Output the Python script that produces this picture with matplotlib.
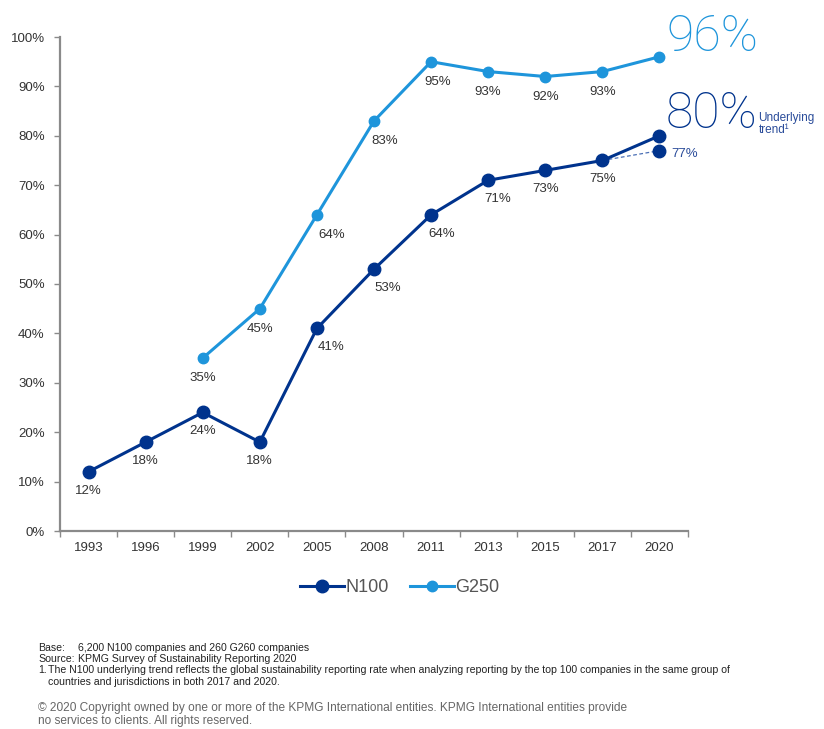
import numpy as np
import matplotlib.pyplot as plt

years = ['1993', '1996', '1999', '2002', '2005', '2008', '2011', '2013', '2015', '2017', '2020']
n100 = [12, 18, 24, 18, 41, 53, 64, 71, 73, 75, 80]
g250 = [np.nan, np.nan, 35, 45, 64, 83, 95, 93, 92, 93, 96]
trend_years = ['2017', '2020']
trend_vals = [75, 77]

# horizontal label nudges (pixels) for steep segments
n100_dx = [0, 0, 0, 0, 14, 14, 11, 10, 0, 0, 0]
g250_dx = [0, 0, 0, 0, 15, 11, 7, 0, 0, 0, 0]

NAVY = '#00338D'
SKY = '#1E95DB'
GREY = '#333333'
AXIS = '#8a8a8a'

plt.rcParams['font.family'] = ['Liberation Sans', 'DejaVu Sans']

fig = plt.figure(figsize=(8.24, 7.29), dpi=100)
ax = fig.add_axes([60/824, 1-531/729, 628/824, 494/729])

x = np.arange(len(years))
ax.plot(x, n100, color=NAVY, lw=2.2, marker='o', ms=9, label='N100', zorder=3)
ax.plot(x, g250, color=SKY, lw=2.2, marker='o', ms=7.5, label='G250', zorder=3)

tx = [years.index(y) for y in trend_years]
ax.plot(tx, trend_vals, color='#4a6fb5', lw=0.9, ls=(0, (3, 2)), zorder=2)
ax.plot(tx[1], trend_vals[1], 'o', color=NAVY, ms=9, zorder=3)

px = 72 / fig.dpi
for i, v in enumerate(n100):
    if i == len(n100) - 1:
        continue
    ax.annotate(f'{v}%', (x[i], v), xytext=(n100_dx[i]*px, -19*px), textcoords='offset points',
                ha='center', va='center', fontsize=9.5, color=GREY)
for i, v in enumerate(g250):
    if np.isnan(v) or i == len(g250) - 1:
        continue
    ax.annotate(f'{v:.0f}%', (x[i], v), xytext=(g250_dx[i]*px, -20*px), textcoords='offset points',
                ha='center', va='center', fontsize=9.5, color=GREY)
ax.annotate(f'{trend_vals[1]}%', (tx[1], trend_vals[1]), xytext=(12*px, -3*px),
            textcoords='offset points', ha='left', va='center', fontsize=9.5, color='#2a4c9a')

# big headline values
ax.annotate(f'{g250[-1]:.0f}%', (x[-1], g250[-1]), xytext=(7*px, 20*px), textcoords='offset points',
            ha='left', va='center', fontsize=36, color=SKY, fontweight='light',
            family=['Roboto', 'DejaVu Sans'], annotation_clip=False)
ax.annotate(f'{n100[-1]}%', (x[-1], n100[-1]), xytext=(6*px, 22*px), textcoords='offset points',
            ha='left', va='center', fontsize=36, color=NAVY, fontweight='light',
            family=['Roboto', 'DejaVu Sans'], annotation_clip=False)
ax.annotate('Underlying\ntrend\u00b9', (x[-1], n100[-1]), xytext=(99*px, 12*px), textcoords='offset points',
            ha='left', va='center', fontsize=8.5, color='#2a4c9a', linespacing=1.05,
            annotation_clip=False)

ax.set_xlim(-0.5, len(years) - 0.5)
ax.set_ylim(0, 100)
ax.set_yticks(np.arange(0, 101, 10))
ax.set_yticklabels([f'{t}%' for t in range(0, 101, 10)])
ax.set_xticks(x)
ax.set_xticklabels(years)
ax.set_xticks(np.arange(-0.5, len(years)), minor=True)
ax.tick_params(axis='x', which='major', length=0, pad=8, labelsize=9.5, labelcolor=GREY)
ax.tick_params(axis='x', which='minor', length=4, width=1, color=AXIS, direction='out')
ax.tick_params(axis='y', length=4, width=1, color=AXIS, pad=7, labelsize=9.5, labelcolor=GREY)
for s in ['top', 'right']:
    ax.spines[s].set_visible(False)
for s in ['left', 'bottom']:
    ax.spines[s].set_color(AXIS)
    ax.spines[s].set_linewidth(1.6)

leg = fig.legend(loc='center', bbox_to_anchor=(400/824, 1-588/729), ncol=2, frameon=False,
                 fontsize=13, handlelength=2.4, columnspacing=1.2, handletextpad=0.1)
for t in leg.get_texts():
    t.set_color('#555555')

foot = 7.6
fig.text(38/824, 1-648/729, 'Base:', fontsize=foot, color='#222222', va='center')
fig.text(78/824, 1-648/729, '6,200 N100 companies and 260 G260 companies', fontsize=foot, color='#222222', va='center')
fig.text(38/824, 1-659/729, 'Source:', fontsize=foot, color='#222222', va='center')
fig.text(78/824, 1-659/729, 'KPMG Survey of Sustainability Reporting 2020', fontsize=foot, color='#222222', va='center')
fig.text(38/824, 1-670/729, '1.', fontsize=foot, color='#222222', va='center')
fig.text(48/824, 1-670/729, 'The N100 underlying trend reflects the global sustainability reporting rate when analyzing reporting '
         'by the top 100 companies in the same group of', fontsize=foot, color='#222222', va='center')
fig.text(48/824, 1-682/729, 'countries and jurisdictions in both 2017 and 2020.', fontsize=foot, color='#222222', va='center')
fig.text(38/824, 1-708/729, '\u00a9 2020 Copyright owned by one or more of the KPMG International entities. '
         'KPMG International entities provide', fontsize=8.6, color='#666666', va='center')
fig.text(38/824, 1-721/729, 'no services to clients. All rights reserved.', fontsize=8.6, color='#666666', va='center')

fig.savefig('out.png', dpi=100)
